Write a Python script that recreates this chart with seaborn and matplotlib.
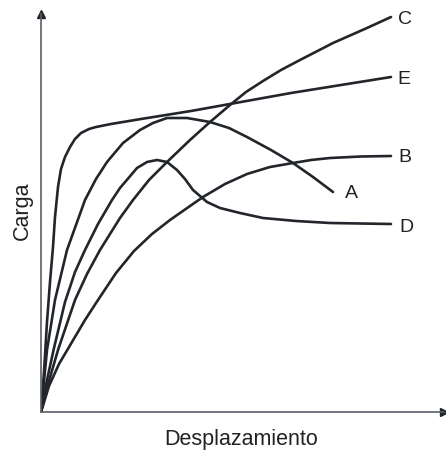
import numpy as np
import pandas as pd
import matplotlib
matplotlib.use("Agg")
import matplotlib.pyplot as plt
import seaborn as sns

# Data (x = displacement, y = load, arbitrary units)
curve_a_x = [0, 6, 14, 26, 44, 55, 66, 82, 99, 112, 126, 146, 169, 188, 206, 230, 252, 272, 292]
curve_a_y = [0, 62, 112, 162, 212, 233, 250, 269, 282, 289, 294, 294, 290, 284, 275, 262, 249, 235, 220]

curve_b_x = [0, 8, 18, 31, 44, 57, 75, 93, 111, 129, 139, 162, 184, 206, 229, 252, 270, 289, 320, 350]
curve_b_y = [0, 26, 48, 70, 92, 112, 139, 161, 178, 192, 199, 215, 228, 238, 245, 249, 252, 254, 255.5, 256]

curve_c_x = [0, 8, 17, 34, 46, 59, 79, 92, 108, 126, 149, 169, 189, 205, 222, 240, 259, 292, 326, 350]
curve_c_y = [0, 31, 62, 112, 138, 162, 194, 212, 232, 250, 272, 290, 307, 320, 331, 342, 352, 369, 384, 395]

curve_d_x = [0, 6, 13, 24, 34, 44, 57, 71, 79, 96, 106, 116, 126, 136, 144, 152, 166, 179, 199, 222, 255, 289, 350]
curve_d_y = [0, 32, 64, 110, 140, 162, 188, 212, 224, 244, 250, 252, 250, 242, 233, 222, 210, 204, 199, 194, 191, 189, 188]

curve_e_x = [0, 3, 6, 9, 12, 14, 17, 20, 24, 29, 34, 40, 48, 55, 70, 100, 150, 200, 250, 300, 350]
curve_e_y = [0, 40, 90, 130, 165, 195, 225, 243, 255, 265, 273, 279, 283, 285, 288, 293, 301, 310, 319, 327, 335]

curve_names = ["A", "B", "C", "D", "E"]
label_x = [292, 350, 350, 350, 350]
label_y = [220, 256, 395, 188, 335]

xlabel = "Desplazamiento"
ylabel = "Carga"

rows = []
for name, xs, ys in zip(curve_names,
                        [curve_a_x, curve_b_x, curve_c_x, curve_d_x, curve_e_x],
                        [curve_a_y, curve_b_y, curve_c_y, curve_d_y, curve_e_y]):
    for i, (xv, yv) in enumerate(zip(xs, ys)):
        rows.append({"curve": name, "x": xv, "y": yv, "order": i})
df = pd.DataFrame(rows)

sns.set_theme(style="white")
plt.rcParams["font.family"] = ["Liberation Sans", "DejaVu Sans"]

W, H = 446, 454
fig = plt.figure(figsize=(W / 100, H / 100), dpi=100)
ox, oy = 41, 412
xt, yt = 444, 14
ax = fig.add_axes([ox / W, (H - oy) / H, (xt - ox) / W, (oy - yt) / H])

line_color = "#22262b"
sns.lineplot(data=df, x="x", y="y", hue="curve", units="curve", estimator=None,
             sort=False, palette=[line_color] * 5, legend=False, linewidth=1.9,
             solid_joinstyle="round", ax=ax)

ax.set_xlim(0, xt - ox)
ax.set_ylim(0, oy - yt)
ax.set_xticks([])
ax.set_yticks([])
for s in ["top", "right"]:
    ax.spines[s].set_visible(False)
for s in ["left", "bottom"]:
    ax.spines[s].set_color("#5a5f66")
    ax.spines[s].set_linewidth(1.2)

# arrow heads
ax.plot(1, 0, ">", color=line_color, markersize=6, transform=ax.transAxes, clip_on=False)
ax.plot(0, 1, "^", color=line_color, markersize=6, transform=ax.transAxes, clip_on=False)

ax.set_xlabel("")
ax.set_ylabel("")
fig.text(241 / W, 1 - 440 / H, xlabel, ha="center", va="center", fontsize=15.5, color="#222222")
fig.text(22 / W, 1 - 211 / H, ylabel, ha="center", va="center", fontsize=15.5, color="#222222", rotation=90)

offsets = {"A": (18, -2), "B": (14, -2), "C": (14, -3), "D": (15, -3), "E": (13, -2)}
for name, lx, ly in zip(curve_names, label_x, label_y):
    dx, dy = offsets[name]
    ax.text(lx + dx, ly + dy, name, ha="center", va="center", fontsize=14, color="#222222")

fig.savefig("out.png", dpi=100)
